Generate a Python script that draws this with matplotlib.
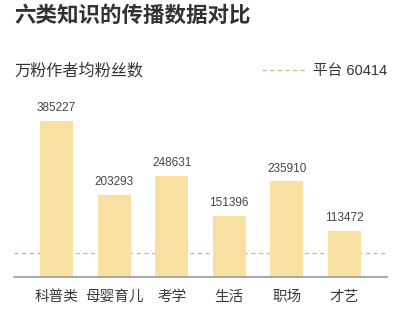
import matplotlib
matplotlib.use("Agg")
import matplotlib.pyplot as plt

plt.rcParams['font.family'] = ['Noto Sans CJK SC', 'DejaVu Sans']

categories = ["科普类", "母婴育儿", "考学", "生活", "职场", "才艺"]
values = [385227, 203293, 248631, 151396, 235910, 113472]
platform_value = 60414
platform_label = "平台 60414"
title = "六类知识的传播数据对比"
subtitle = "万粉作者均粉丝数"

W, H = 411, 325
fig = plt.figure(figsize=(W / 100, H / 100), dpi=100)

ax_left, ax_right = 14 / W, 387 / W
ax_bottom = 1 - 277 / H
ax_top = 1 - 94.8 / H
ax = fig.add_axes([ax_left, ax_bottom, ax_right - ax_left, ax_top - ax_bottom])

bar_color = "#F9E0A2"
dash_color = "#D9B896"
num_font = ['Liberation Sans', 'Noto Sans CJK SC']
x = list(range(len(categories)))
ax.bar(x, values, width=0.57, color=bar_color, zorder=2)
ax.axhline(platform_value, color=dash_color, lw=1, ls=(0, (3, 2.5)), zorder=1)

for xi, v in zip(x, values):
    ax.annotate(f"{v}", (xi, v), xytext=(0, 5), textcoords="offset points",
                ha="center", va="bottom", fontsize=8.5, color="#444444",
                family=num_font)

ax.set_xlim(-0.74, 5.74)
ax.set_ylim(0, 450000)
ax.set_xticks(x)
ax.set_xticklabels(categories, fontsize=10.5, color="#3a3a3a")
ax.tick_params(axis="x", length=0, pad=9)
ax.set_yticks([])
for s in ["top", "right", "left"]:
    ax.spines[s].set_visible(False)
ax.spines["bottom"].set_color("#999999")
ax.spines["bottom"].set_linewidth(1.2)

fig.text(14 / W, 1 - 15 / H, title, fontsize=15.5, fontweight="bold",
         color="#333333", ha="left", va="center")
fig.text(14 / W, 1 - 71 / H, subtitle, fontsize=11.6, color="#333333",
         ha="left", va="center")
fig.add_artist(matplotlib.lines.Line2D([262 / W, 305 / W], [1 - 70 / H, 1 - 70 / H],
                                       color=dash_color, lw=1, ls=(0, (3, 2.5))))
fig.text(387 / W, 1 - 71 / H, platform_label, fontsize=10.5, color="#333333",
         ha="right", va="center", family=num_font)

fig.savefig("out.png", dpi=100, facecolor="white")
